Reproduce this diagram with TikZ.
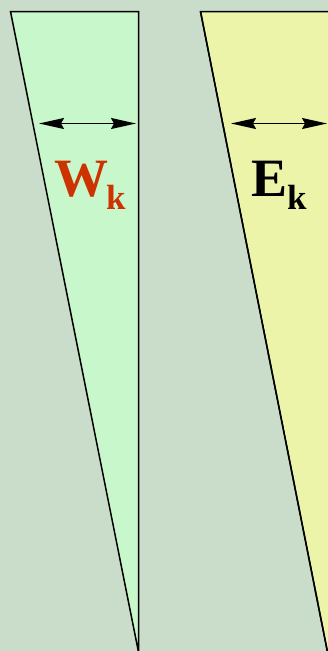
\documentclass[tikz,border=0pt]{standalone}
\usepackage{fontspec}
\setmainfont{Liberation Serif}
\usetikzlibrary{arrows.meta}
\definecolor{bgc}{HTML}{CADCCA}
\definecolor{greenc}{HTML}{C8F7CC}
\definecolor{yellowc}{HTML}{EBF4A8}
\definecolor{redc}{HTML}{CC3300}
\tikzset{
  wedge/.style={draw=black, line width=1.5pt, line join=miter},
  dimarrow/.style={line width=1.4pt, {Stealth[length=25pt,width=11pt,inset=3pt]}-{Stealth[length=25pt,width=11pt,inset=3pt]}},
  bigletter/.style={font=\bfseries\fontsize{54}{54}\selectfont, inner sep=0pt, anchor=base west},
  subletter/.style={font=\bfseries\fontsize{35}{35}\selectfont, inner sep=0pt, anchor=base west},
}
\begin{document}
\begin{tikzpicture}[x=1pt,y=-1pt]
\fill[bgc] (0,0) rectangle (328,651);
\useasboundingbox (0,0) rectangle (328,651);
% left wedge
\draw[wedge, fill=greenc] (10.5,11.5) -- (138.5,11.5) -- (138.5,652) -- cycle;
% right wedge
\draw[wedge, fill=yellowc] (200.5,11.5) -- (330,11.5) -- (330,652) -- (327.5,652) -- cycle;
\draw[wedge] (200.5,11.5) -- (327.5,652);
\coordinate (la) at (39,123.5);
\coordinate (lb) at (136,123.5);
\coordinate (ra) at (231,123.5);
\coordinate (rb) at (327,123.5);
\draw[dimarrow] (la) -- (lb);
\draw[dimarrow] (ra) -- (rb);
\node[bigletter, text=redc] (W) at (54,196) {W};
\node[subletter, text=redc] (Wk) at (106,209) {k};
\node[bigletter] (E) at (251,196) {E};
\node[subletter] (Ek) at (287,209) {k};
\end{tikzpicture}
\end{document}
